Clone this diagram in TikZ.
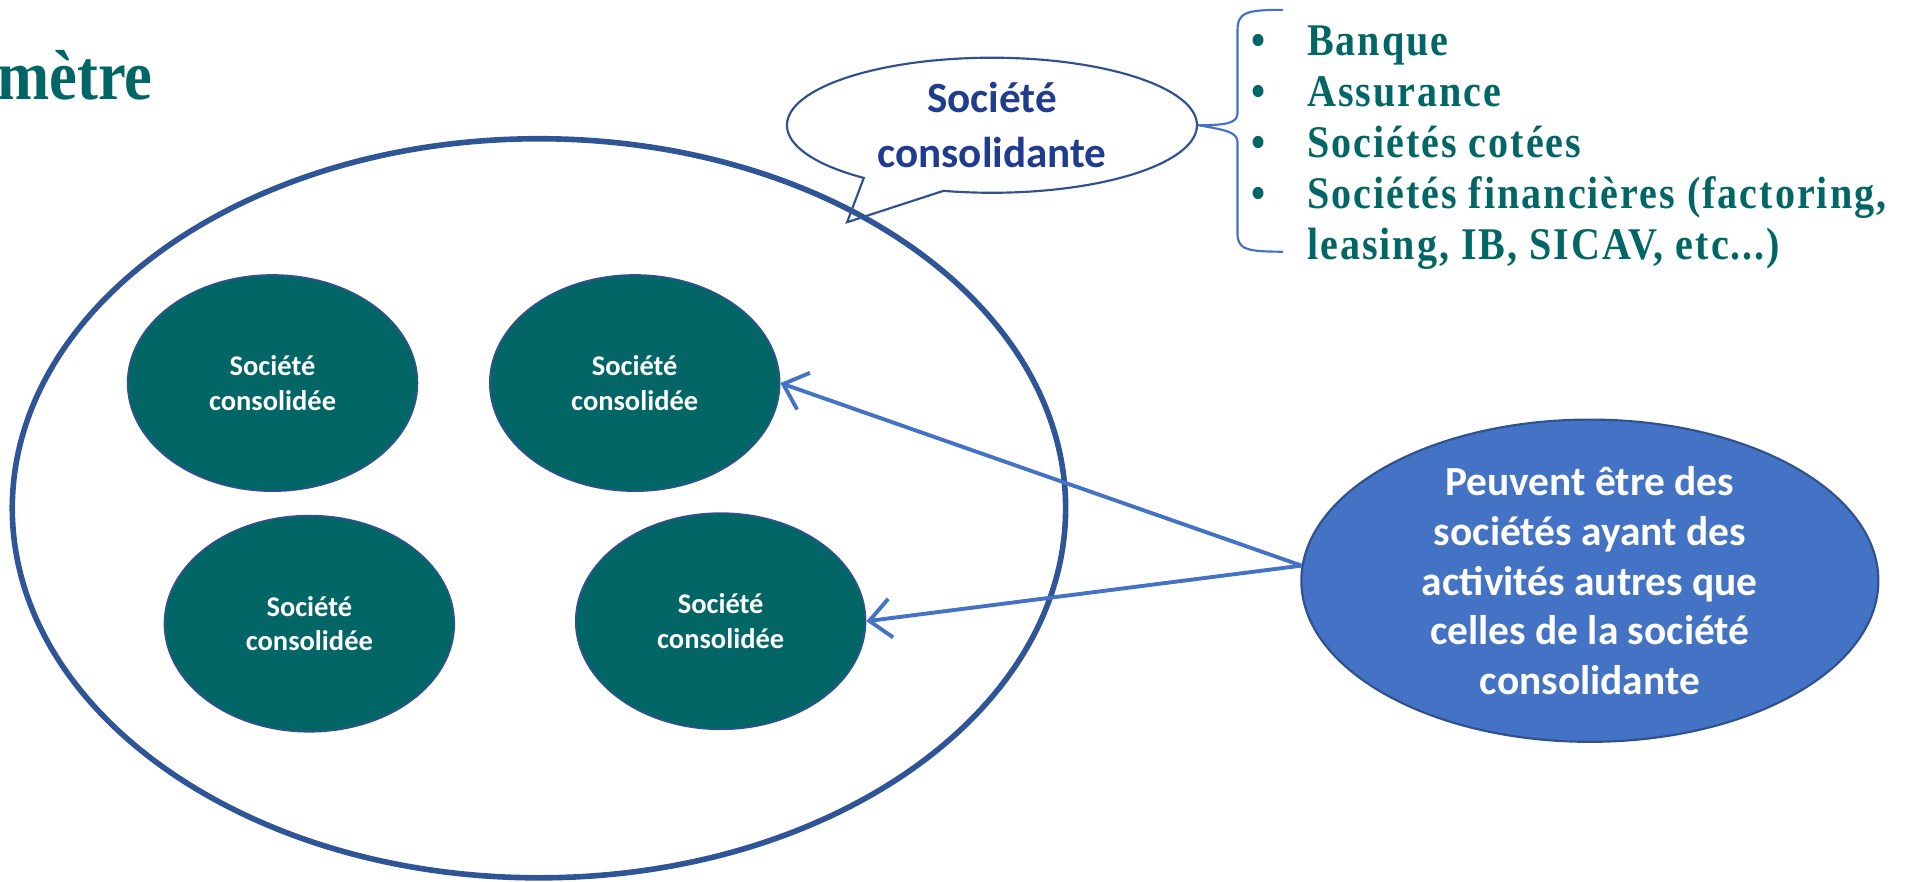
\documentclass[tikz,border=0pt]{standalone}
\usepackage{fontspec}
\setmainfont{Carlito}
\newfontfamily\titrefont[FakeStretch=0.885]{Liberation Serif}
\newfontfamily\listefont[FakeStretch=0.885,LetterSpace=4.4]{Liberation Serif}
\usetikzlibrary{shapes.geometric,shapes.callouts,arrows.meta}
\definecolor{sarcelle}{HTML}{036666}
\definecolor{bleufonce}{HTML}{2F5597}
\definecolor{bleutexte}{HTML}{1F3C8E}
\definecolor{bleuclair}{HTML}{4472C4}
\definecolor{bleubord}{HTML}{2F528F}
\begin{document}
\begin{tikzpicture}[>={Straight Barb[length=5pt,width=9pt]},
        filiale/.style={ellipse,fill=sarcelle,draw=bleubord,line width=.4pt,minimum width=2.36cm,minimum height=1.76cm,inner sep=0pt,text=white,align=center,font=\bfseries\fontsize{6.6}{8}\selectfont},
        liste/.style={inner sep=0pt,text=sarcelle,font=\listefont\bfseries\fontsize{10.5}{11.8}\selectfont},
        fleche/.style={->,draw=bleuclair,line width=.9pt}]
        \useasboundingbox (0,0) rectangle (15.68,-7.18);
        \node[anchor=base west,inner sep=0pt,text=sarcelle,font=\titrefont\bfseries\fontsize{16.4}{18}\selectfont] (titre) at (-0.03,-0.81) {mètre};
        % bulle de la societe consolidante
        \node[ellipse callout,draw=bleubord,fill=white,line width=.5pt,minimum width=3.34cm,minimum height=1.10cm,inner sep=0pt,
            callout absolute pointer={(6.90,-1.81)},callout pointer arc=25,text=bleutexte,align=center,
            font=\bfseries\fontsize{10}{12.8}\selectfont] (bulle) at (8.08,-1.02) {Société\\consolidante};
        \node[ellipse,draw=bleufonce,line width=1.3pt,minimum width=8.58cm,minimum height=6.02cm] (perimetre) at (4.39,-4.14) {};
        \foreach \n/\p in {c1/{2.22,-3.12},c2/{5.17,-3.12},c3/{2.52,-5.08},c4/{5.87,-5.06}}
        {
            \node[filiale] (\n) at (\p) {Société\\consolidée};
        }
        % liste
        \foreach \t [count=\i] in {Banque,Assurance,Sociétés cotées,{Sociétés financières (factoring,}}
        {
            \node[liste,anchor=base west] (item\i) at (10.64,{-0.45-0.415*(\i-1)}) {\t};
            \node[liste,anchor=base] at (10.25,{-0.45-0.415*(\i-1)}) {•};
        }
        \node[liste,anchor=base west] (item5) at (10.64,-2.11) {leasing, IB, SICAV, etc...)};
        \draw[bleuclair,line width=.5pt] (10.45,-0.08) .. controls (10.15,-0.08) and (10.08,-0.10) .. (10.08,-0.25) -- (10.08,-0.92)
            .. controls (10.08,-1.00) and (10.00,-1.02) .. (bulle.east) .. controls (10.00,-1.06) and (10.08,-1.08) .. (10.08,-1.16)
            -- (10.08,-1.90) .. controls (10.08,-2.03) and (10.15,-2.05) .. (10.45,-2.05);
        % autres activites
        \node[ellipse,fill=bleuclair,draw=bleubord,line width=.5pt,minimum width=4.70cm,minimum height=2.37cm,inner sep=0pt,text=white,align=center,
            font=\bfseries\fontsize{9.6}{11.5}\selectfont] (autres) at (12.95,-4.73) {Peuvent être des\\sociétés ayant des\\activités autres que\\celles de la société\\consolidante};
        \draw[fleche] (autres.177) -- (c2.east);
        \draw[fleche] (autres.177) -- (c4.east);
\end{tikzpicture}
\end{document}
